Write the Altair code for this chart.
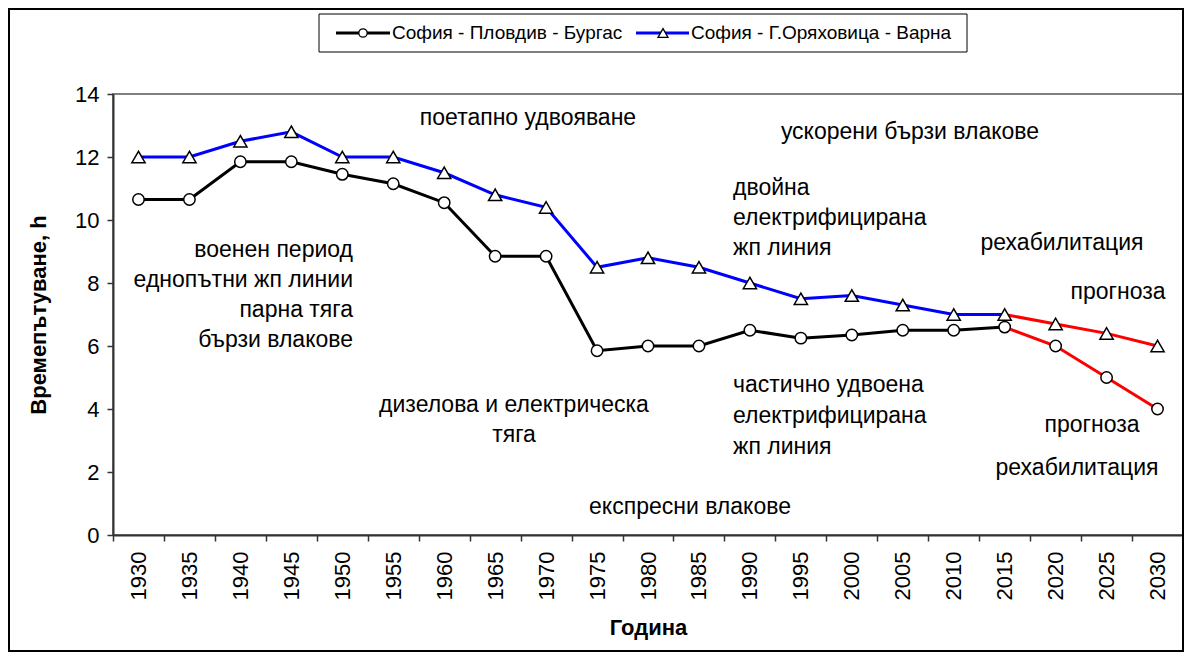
import altair as alt
import pandas as pd

# ---------------- data ----------------
years = [1930, 1935, 1940, 1945, 1950, 1955, 1960, 1965, 1970, 1975, 1980,
         1985, 1990, 1995, 2000, 2005, 2010, 2015, 2020, 2025, 2030]
sofia_burgas = [10.65, 10.65, 11.85, 11.85, 11.45, 11.15, 10.55, 8.85, 8.85, 5.85, 6.0,
                6.0, 6.5, 6.25, 6.35, 6.5, 6.5, 6.6, 6.0, 5.0, 4.0]
sofia_varna = [12.0, 12.0, 12.5, 12.8, 12.0, 12.0, 11.5, 10.8, 10.4, 8.5, 8.8,
               8.5, 8.0, 7.5, 7.6, 7.3, 7.0, 7.0, 6.7, 6.4, 6.0]
series_names = ["София - Пловдив - Бургас", "София - Г.Оряховица - Варна"]
forecast_from = 2015
y_ticks = [0, 2, 4, 6, 8, 10, 12, 14]

x_title = "Година"
y_title = "Времепътуване, h"

ann_top1 = ["поетапно удвояване"]
ann_top2 = ["ускорени бързи влакове"]
ann_double = ["двойна", "електрифицирана", "жп линия"]
ann_rehab1 = ["рехабилитация"]
ann_fc1 = ["прогноза"]
ann_war = ["военен период", "еднопътни жп линии", "парна тяга", "бързи влакове"]
ann_diesel = ["дизелова и електрическа", "тяга"]
ann_partial = ["частично удвоена", "електрифицирана", "жп линия"]
ann_fc2 = ["прогноза"]
ann_rehab2 = ["рехабилитация"]
ann_express = ["експресни влакове"]

# ---------------- tables ----------------
all_values = [sofia_burgas, sofia_varna]
line_rows, point_rows = [], []
for i, (name, vals) in enumerate(zip(series_names, all_values)):
    for y, v in zip(years, vals):
        point_rows.append({"series": name, "year": str(y), "value": v})
        if y <= forecast_from:
            line_rows.append({"seg": f"{i}-hist", "ckey": f"hist{i}", "year": str(y), "value": v})
        if y >= forecast_from:
            line_rows.append({"seg": f"{i}-fc", "ckey": "forecast", "year": str(y), "value": v})
line_df = pd.DataFrame(line_rows)
point_df = pd.DataFrame(point_rows)

FONT = "Liberation Sans"
W, H = 1070, 441

x_enc = alt.X("year:O",
              scale=alt.Scale(type="band", paddingInner=0, paddingOuter=0),
              axis=alt.Axis(title=x_title, labelAngle=270, labelFontSize=22,
                            labelPadding=10, tickBand="extent", tickSize=6,
                            titleFontSize=22, titleFontWeight="bold", titlePadding=18,
                            domainColor="#333333", tickColor="#333333", domainWidth=2,
                            tickWidth=1.5, labelColor="black", titleColor="black"))
y_enc = alt.Y("value:Q",
              scale=alt.Scale(domain=[0, 14], nice=False),
              axis=alt.Axis(title=y_title, values=y_ticks, grid=False, labelFontSize=22,
                            tickSize=6, labelPadding=8, titleFontSize=22,
                            titleFontWeight="bold", titlePadding=24,
                            domainColor="#333333", tickColor="#333333", domainWidth=2,
                            tickWidth=1.5, labelColor="black", titleColor="black"))

lines = alt.Chart(line_df).mark_line(strokeWidth=3).encode(
    x=x_enc, y=y_enc,
    color=alt.Color("ckey:N", scale=alt.Scale(domain=["hist0", "hist1", "forecast"],
                                              range=["#000000", "#0000FF", "#FF0000"]),
                    legend=None),
    detail="seg:N",
)

points = alt.Chart(point_df).mark_point(filled=True, fill="white", stroke="black",
                                        strokeWidth=1.5, opacity=1).encode(
    x=alt.X("year:O"), y=alt.Y("value:Q"),
    shape=alt.Shape("series:N", scale=alt.Scale(domain=series_names,
                                                range=["circle", "triangle-up"]),
                    legend=None),
    size=alt.Size("series:N", scale=alt.Scale(domain=series_names, range=[130, 175]),
                  legend=None),
)

one = pd.DataFrame({"k": [0]})

# annotations (pixel placement inside plot area)
def text_block(lines_, x, y0, align, step=30, size=23):
    layers = []
    for j, t in enumerate(lines_):
        layers.append(alt.Chart(one).mark_text(align=align, baseline="middle", fontSize=size,
                                               font=FONT, color="black").encode(
            x=alt.value(x), y=alt.value(y0 + j * step), text=alt.value(t)))
    return layers

ann = []
ann += text_block(ann_top1, 415, 24, "center")
ann += text_block(ann_top2, 797, 38, "center")
ann += text_block(ann_double, 620, 94, "left")
ann += text_block(ann_rehab1, 949, 149, "center")
ann += text_block(ann_fc1, 1005, 198, "center")
ann += text_block(ann_war, 240, 156, "right")
ann += text_block(ann_diesel, 401, 311, "center")
ann += text_block(ann_partial, 620, 291, "left", step=31)
ann += text_block(ann_fc2, 979, 331, "center")
ann += text_block(ann_rehab2, 964, 374, "center")
ann += text_block(ann_express, 577, 413, "center")

# legend (drawn manually above the plot)
leg = []
leg.append(alt.Chart(one).mark_rect(filled=False, stroke="black", strokeWidth=1).encode(
    x=alt.value(206), x2=alt.value(854), y=alt.value(-80), y2=alt.value(-42)))
leg_specs = [(223, 277, 250, "#000000", "circle", 279, 70),
             (523, 576, 550, "#0000FF", "triangle-up", 578, 100)]
for (xa, xb, xm, col, shp, xt, sz), name in zip(leg_specs, series_names):
    leg.append(alt.Chart(one).mark_rule(strokeWidth=3, color=col).encode(
        x=alt.value(xa), x2=alt.value(xb), y=alt.value(-61)))
    leg.append(alt.Chart(one).mark_point(shape=shp, filled=True, fill="white", stroke="black",
                                         strokeWidth=1.3, opacity=1, size=sz).encode(
        x=alt.value(xm), y=alt.value(-61)))
    leg.append(alt.Chart(one).mark_text(align="left", baseline="middle", fontSize=19,
                                        font=FONT, color="black").encode(
        x=alt.value(xt), y=alt.value(-61), text=alt.value(name)))

# outer frame of the whole chart
frame = alt.Chart(one).mark_rect(filled=False, stroke="black", strokeWidth=2).encode(
    x=alt.value(-104), x2=alt.value(W + 0), y=alt.value(-85), y2=alt.value(H + 116))

chart = alt.layer(lines, points, *ann, *leg, frame).properties(
    width=W, height=H,
    autosize=alt.AutoSizeParams(type="none"),
    padding={"left": 105, "top": 86, "right": 1, "bottom": 118},
).configure(font=FONT).configure_view(stroke="#808080", strokeWidth=2).configure_axis(
    labelFont=FONT, titleFont=FONT)

chart.save("out.html", embed_options={"renderer": "svg", "actions": False})
